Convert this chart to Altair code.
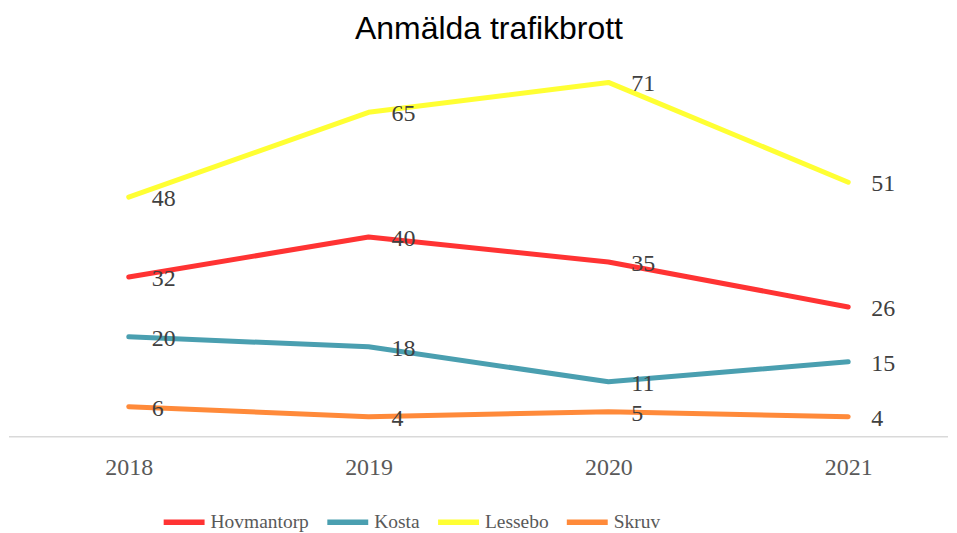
import altair as alt
import pandas as pd

years = ["2018", "2019", "2020", "2021"]
series_names = ["Hovmantorp", "Kosta", "Lessebo", "Skruv"]
hovmantorp = [32, 40, 35, 26]
kosta = [20, 18, 11, 15]
lessebo = [48, 65, 71, 51]
skruv = [6, 4, 5, 4]
colors = ["#FF3333", "#4A9FB0", "#FFFF33", "#FF8A3A"]
title_text = "Anmälda trafikbrott"

rows = []
for name, vals in zip(series_names, [hovmantorp, kosta, lessebo, skruv]):
    for y, v in zip(years, vals):
        rows.append({"År": y, "Ort": name, "Antal": v})
df = pd.DataFrame(rows)

W, H = 941, 429
serif = "Liberation Serif"

x = alt.X(
    "År:O",
    scale=alt.Scale(type="point", range=[120, 841], padding=0),
    axis=alt.Axis(
        title=None,
        labelAngle=0,
        ticks=False,
        tickSize=0,
        grid=False,
        domain=False,
        labelFont=serif,
        labelFontSize=24,
        labelColor="#595959",
        labelPadding=19,
    ),
)
y = alt.Y(
    "Antal:Q",
    scale=alt.Scale(domain=[0, 85.8], nice=False, zero=True),
    axis=None,
)
color = alt.Color(
    "Ort:N",
    scale=alt.Scale(domain=series_names, range=colors),
    legend=alt.Legend(
        title=None,
        orient="none",
        direction="horizontal",
        legendX=152,
        legendY=491,
        symbolType="stroke",
        symbolSize=1681,
        symbolStrokeWidth=5.5,
        labelFont=serif,
        labelFontSize=19.5,
        labelColor="#595959",
        labelOffset=3,
        columnPadding=7,
    ),
)

base = alt.Chart(df)
baseline = alt.Chart(pd.DataFrame({"v": [0]})).mark_rule(
    color="#D9D9D9", strokeWidth=1.5
).encode(x=alt.value(0), x2=alt.value(W), y=alt.Y("v:Q", scale=alt.Scale(domain=[0, 85.8], nice=False), axis=None))

lines = base.mark_line(strokeWidth=5, strokeCap="round", strokeJoin="round").encode(
    x=x, y=y, color=color, order="År:O"
)
labels = base.mark_text(
    align="left", baseline="middle", dx=23, dy=2,
    font=serif, fontSize=24, color="#404040",
).encode(x=x, y=y, text="Antal:Q")

title = alt.Chart(pd.DataFrame({"t": [title_text]})).mark_text(
    font="Liberation Sans", fontSize=32, color="#000000",
    align="center", baseline="alphabetic",
).encode(x=alt.value(481), y=alt.value(31), text="t:N")

chart = (
    alt.layer(baseline, lines, labels, title)
    .properties(width=W, height=H, padding=0, background="white")
    .configure_view(strokeWidth=0, stroke=None)
)

chart.save("out.html", embed_options={"renderer": "svg", "actions": False})
